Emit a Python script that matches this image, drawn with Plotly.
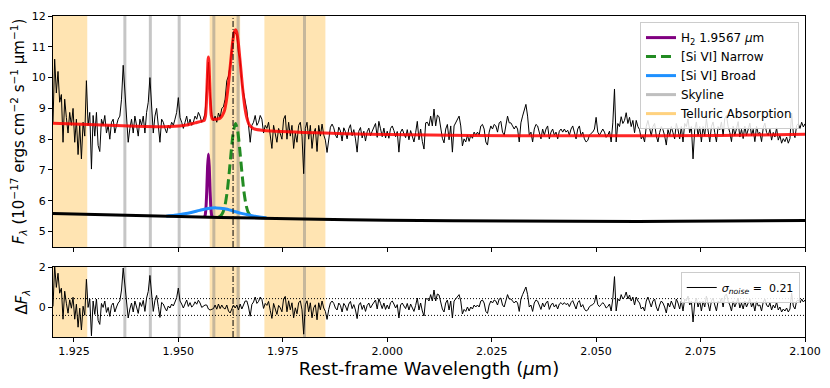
import plotly.graph_objects as go

# ---------------- data ----------------
WL_START = 1.92      # first wavelength sample (micron)
WL_STEP = 0.0004     # sampling of the spectrum (micron)

flux = [
    8.55, 10.60, 9.50, 10.20, 9.20, 9.45, 7.90, 9.30, 8.70, 8.20,
    8.87, 8.45, 9.00, 7.90, 8.65, 7.50, 8.45, 7.36, 8.55, 8.10,
    9.90, 8.45, 8.87, 7.03, 8.77, 8.10, 8.87, 7.80, 7.60, 8.65,
    8.45, 8.77, 8.20, 8.45, 8.00, 8.55, 8.65, 8.20, 8.45, 8.65,
    8.75, 9.30, 10.40, 9.50, 8.75, 7.90, 8.35, 8.65, 8.20, 8.75,
    8.45, 8.10, 8.65, 8.45, 8.75, 8.20, 8.87, 9.20, 10.00, 9.20,
    8.20, 8.75, 9.00, 8.45, 7.90, 8.65, 8.55, 8.35, 8.20, 8.45,
    8.35, 8.55, 8.45, 8.65, 8.87, 9.35, 8.70, 8.55, 8.35, 8.55,
    8.75, 8.45, 8.65, 8.45, 8.55, 8.75, 8.65, 8.87, 8.75, 8.55,
    8.65, 8.85, 9.70, 10.50, 9.55, 8.80, 8.60, 8.75, 8.55, 8.85,
    8.70, 9.00, 9.05, 9.30, 9.90, 10.05, 10.40, 11.00, 11.50, 11.45,
    11.40, 10.80, 10.60, 9.80, 9.55, 9.25, 8.95, 8.45, 7.90, 8.45,
    8.55, 8.77, 8.45, 8.55, 8.77, 8.65, 8.20, 8.45, 8.35, 8.55,
    8.10, 7.70, 8.45, 8.10, 7.90, 8.35, 8.20, 8.00, 8.65, 8.77,
    8.00, 8.55, 8.10, 8.45, 7.70, 8.20, 7.90, 8.45, 8.55, 8.10,
    6.88, 8.35, 8.55, 8.00, 8.45, 7.70, 8.20, 8.35, 7.60, 8.45,
    8.10, 8.49, 8.14, 7.97, 7.57, 8.07, 8.39, 8.49, 8.37, 8.14,
    8.04, 8.39, 8.27, 7.94, 8.37, 8.24, 8.01, 8.34, 8.47, 8.11,
    8.31, 8.01, 7.58, 8.26, 8.38, 8.04, 8.26, 7.94, 8.24, 8.36,
    8.11, 8.26, 8.41, 8.51, 8.06, 8.58, 8.34, 8.08, 8.36, 8.04,
    8.26, 8.03, 8.35, 8.43, 8.28, 8.08, 8.25, 7.58, 8.23, 8.33,
    8.18, 8.05, 8.31, 7.98, 8.28, 8.08, 7.91, 8.21, 8.58, 7.98,
    8.33, 7.93, 7.68, 8.53, 8.55, 8.43, 8.75, 8.43, 8.98, 8.43,
    8.78, 8.73, 8.33, 8.03, 7.88, 8.33, 8.48, 7.98, 8.43, 7.58,
    8.43, 8.53, 8.65, 8.75, 8.43, 7.78, 8.01, 7.91, 8.13, 7.93,
    8.13, 8.03, 8.23, 8.13, 8.23, 8.13, 8.43, 8.48, 8.33, 7.91,
    7.81, 8.23, 8.43, 8.33, 8.48, 8.43, 8.23, 8.53, 8.58, 8.23,
    8.13, 8.53, 8.75, 8.53, 8.53, 8.43, 8.33, 8.43, 8.33, 7.91,
    8.53, 8.75, 8.98, 9.13, 8.75, 8.13, 8.23, 7.91, 8.33, 8.48,
    8.43, 8.23, 8.01, 8.33, 8.13, 8.33, 8.43, 8.01, 8.23, 8.33,
    8.13, 8.23, 8.01, 8.26, 8.33, 8.23, 8.33, 8.23, 8.29, 8.13,
    8.33, 8.43, 8.23, 8.01, 8.33, 8.43, 8.11, 8.23, 8.01, 7.91,
    7.96, 8.13, 8.19, 8.23, 8.33, 8.71, 8.23, 8.13, 8.23, 8.33,
    8.23, 8.06, 8.13, 8.26, 7.91, 8.53, 9.63, 7.91, 8.51, 8.41,
    8.73, 8.51, 8.61, 8.86, 8.51, 8.71, 8.41, 8.61, 8.21, 8.61,
    8.41, 8.31, 8.01, 8.11, 7.91, 8.41, 8.61, 8.31, 8.11, 8.41,
    8.51, 8.11, 7.91, 8.21, 8.41, 8.31, 8.11, 7.81, 8.31, 8.11,
    8.41, 8.21, 8.01, 8.51, 8.31, 8.01, 8.41, 7.91, 8.51, 8.41,
    8.66, 8.21, 8.41, 7.36, 8.31, 8.56, 8.11, 8.41, 7.91, 8.41,
    8.11, 8.66, 8.31, 7.91, 8.41, 8.56, 8.21, 7.91, 8.41, 8.31,
    8.56, 8.12, 8.67, 8.77, 8.42, 8.22, 7.92, 8.42, 8.12, 8.32,
    8.57, 8.07, 8.32, 8.02, 8.42, 8.12, 8.32, 8.52, 8.12, 8.32,
    7.92, 8.42, 8.17, 8.22, 7.92, 8.37, 8.52, 8.22, 8.12, 8.32,
    7.97, 8.22, 8.07, 8.37, 7.97, 8.12, 7.87, 8.02, 7.92, 8.07,
    7.87, 8.02, 8.85, 8.20, 8.05, 8.45, 8.50, 8.35, 8.55, 8.40,
    8.50,
]

resid = [
    0.03, 2.08, 0.98, 1.69, 0.69, 0.94, -0.61, 0.79, 0.19, -0.31,
    0.36, -0.06, 0.49, -0.61, 0.14, -1.01, -0.06, -1.15, 0.04, -0.41,
    1.39, -0.02, 0.40, -1.44, 0.30, -0.37, 0.40, -0.67, -0.87, 0.18,
    -0.02, 0.30, -0.27, -0.02, -0.47, 0.08, 0.20, -0.25, 0.00, 0.20,
    0.30, 0.85, 1.95, 1.05, 0.30, -0.55, -0.10, 0.20, -0.25, 0.30,
    0.00, -0.32, 0.23, 0.03, 0.33, -0.22, 0.45, 0.78, 1.58, 0.78,
    -0.22, 0.33, 0.58, 0.03, -0.52, 0.23, 0.15, -0.05, -0.20, 0.05,
    -0.05, 0.15, 0.05, 0.25, 0.47, 0.95, 0.30, 0.15, -0.05, 0.15,
    0.35, 0.03, 0.22, 0.00, 0.08, 0.26, 0.14, 0.34, 0.20, -0.02,
    0.05, 0.10, 0.10, -0.10, -0.15, -0.10, -0.08, 0.10, -0.11, 0.15,
    -0.08, 0.10, -0.05, -0.10, 0.10, -0.20, -0.30, -0.10, 0.10, -0.05,
    0.10, -0.15, 0.15, -0.10, 0.15, 0.30, 0.30, 0.00, -0.46, 0.13,
    0.25, 0.50, 0.18, 0.28, 0.50, 0.38, -0.07, 0.18, 0.08, 0.28,
    -0.17, -0.57, 0.18, -0.17, -0.37, 0.08, -0.04, -0.24, 0.41, 0.53,
    -0.24, 0.31, -0.14, 0.21, -0.54, -0.04, -0.34, 0.21, 0.31, -0.14,
    -1.36, 0.11, 0.31, -0.24, 0.21, -0.54, -0.04, 0.11, -0.64, 0.21,
    -0.14, 0.30, -0.05, -0.22, -0.62, -0.12, 0.20, 0.30, 0.18, -0.05,
    -0.15, 0.20, 0.08, -0.25, 0.18, 0.05, -0.18, 0.15, 0.28, -0.08,
    0.12, -0.15, -0.58, 0.10, 0.22, -0.12, 0.10, -0.22, 0.08, 0.20,
    -0.05, 0.10, 0.25, 0.35, -0.10, 0.42, 0.18, -0.08, 0.20, -0.12,
    0.10, -0.10, 0.22, 0.30, 0.15, -0.05, 0.12, -0.55, 0.10, 0.20,
    0.05, -0.08, 0.18, -0.15, 0.15, -0.05, -0.22, 0.08, 0.45, -0.15,
    0.20, -0.20, -0.45, 0.40, 0.42, 0.30, 0.62, 0.30, 0.85, 0.30,
    0.65, 0.60, 0.20, -0.10, -0.25, 0.20, 0.35, -0.15, 0.30, -0.55,
    0.30, 0.40, 0.52, 0.62, 0.30, -0.35, -0.12, -0.22, 0.00, -0.20,
    0.00, -0.10, 0.10, 0.00, 0.10, 0.00, 0.30, 0.35, 0.20, -0.22,
    -0.32, 0.10, 0.30, 0.20, 0.35, 0.30, 0.10, 0.40, 0.45, 0.10,
    0.00, 0.40, 0.62, 0.40, 0.40, 0.30, 0.20, 0.30, 0.20, -0.22,
    0.40, 0.62, 0.85, 1.00, 0.62, 0.00, 0.10, -0.22, 0.20, 0.35,
    0.30, 0.10, -0.12, 0.20, 0.00, 0.20, 0.30, -0.12, 0.10, 0.20,
    0.00, 0.12, -0.10, 0.15, 0.22, 0.12, 0.22, 0.12, 0.18, 0.02,
    0.22, 0.32, 0.12, -0.10, 0.22, 0.32, 0.00, 0.12, -0.10, -0.20,
    -0.15, 0.02, 0.08, 0.12, 0.22, 0.60, 0.12, 0.02, 0.12, 0.22,
    0.12, -0.05, 0.02, 0.15, -0.20, 0.42, 1.52, -0.20, 0.40, 0.30,
    0.62, 0.40, 0.50, 0.75, 0.40, 0.60, 0.30, 0.50, 0.10, 0.50,
    0.30, 0.20, -0.10, 0.00, -0.20, 0.30, 0.50, 0.20, 0.00, 0.30,
    0.40, 0.00, -0.20, 0.10, 0.30, 0.20, 0.00, -0.30, 0.20, 0.00,
    0.30, 0.10, -0.10, 0.40, 0.20, -0.10, 0.30, -0.20, 0.40, 0.30,
    0.55, 0.10, 0.30, -0.75, 0.20, 0.45, 0.00, 0.30, -0.20, 0.30,
    0.00, 0.55, 0.20, -0.20, 0.30, 0.45, 0.10, -0.20, 0.30, 0.20,
    0.45, 0.00, 0.55, 0.65, 0.30, 0.10, -0.20, 0.30, 0.00, 0.20,
    0.45, -0.05, 0.20, -0.10, 0.30, 0.00, 0.20, 0.40, 0.00, 0.20,
    -0.20, 0.30, 0.05, 0.10, -0.20, 0.25, 0.40, 0.10, 0.00, 0.20,
    -0.15, 0.10, -0.05, 0.25, -0.15, 0.00, -0.25, -0.10, -0.20, -0.05,
    -0.25, -0.10, 0.70, 0.05, -0.10, 0.30, 0.35, 0.20, 0.40, 0.25,
    0.35,
]

# total model fit (red)
fit_wl = [1.9200, 1.9300, 1.9400, 1.9480, 1.9520, 1.9540, 1.9555, 1.9562,
          1.9565, 1.9567, 1.9569, 1.9571, 1.9572, 1.9573, 1.9575, 1.9577,
          1.9579, 1.9582, 1.9590, 1.9600, 1.9610, 1.9615, 1.9620, 1.9625,
          1.9630, 1.9634, 1.9637, 1.9640, 1.9644, 1.9649, 1.9654, 1.9659,
          1.9664, 1.9670, 1.9680, 1.9700, 1.9800, 1.9900, 2.0000, 2.0200,
          2.0500, 2.0800, 2.1000]
fit_flux = [8.52, 8.47, 8.42, 8.41, 8.46, 8.53, 8.58, 8.61,
            8.75, 9.13, 9.86, 10.56, 10.67, 10.56, 9.86, 9.13,
            8.77, 8.65, 8.65, 8.68, 8.91, 9.25, 9.79, 10.48,
            11.15, 11.48, 11.55, 11.46, 11.08, 10.37, 9.64, 9.05,
            8.69, 8.46, 8.34, 8.29, 8.22, 8.18, 8.15, 8.12,
            8.11, 8.12, 8.16]

# continuum (black, offset)
cont_wl = [1.920, 1.940, 1.960, 1.980, 2.000, 2.030, 2.060, 2.080, 2.100]
cont_flux = [5.59, 5.52, 5.46, 5.41, 5.37, 5.34, 5.33, 5.34, 5.36]

# H2 1.9567 component
h2_wl = [1.9562, 1.9564, 1.9566, 1.9568, 1.9570, 1.9572, 1.9574, 1.9576,
         1.9578, 1.9580, 1.9582]
h2_flux = [5.47, 5.52, 5.74, 6.31, 7.11, 7.52, 7.11, 6.31, 5.74, 5.52, 5.47]

# [Si VI] narrow component
narrow_wl = [1.9597, 1.9602, 1.9607, 1.9612, 1.9617, 1.9622, 1.9627, 1.9632,
             1.9637, 1.9642, 1.9647, 1.9652, 1.9657, 1.9662, 1.9667, 1.9672,
             1.9677]
narrow_flux = [5.47, 5.52, 5.63, 5.87, 6.30, 6.94, 7.67, 8.27,
               8.51, 8.27, 7.67, 6.94, 6.30, 5.87, 5.63, 5.52, 5.47]

# [Si VI] broad component
broad_wl = [1.9471, 1.9491, 1.9511, 1.9531, 1.9551, 1.9571, 1.9591, 1.9611,
            1.9631, 1.9651, 1.9671, 1.9691, 1.9711]
broad_flux = [5.50, 5.53, 5.57, 5.62, 5.69, 5.75, 5.77, 5.74,
              5.67, 5.59, 5.53, 5.48, 5.45]

telluric_bands = [(1.9200, 1.9282), (1.9575, 1.9648), (1.9706, 1.9852)]
skylines = [1.9372, 1.9433, 1.9502, 1.9585, 1.9643, 1.9802]
si_vi_center = 1.9631
sigma_noise = 0.21

x_ticks = [1.925, 1.950, 1.975, 2.000, 2.025, 2.050, 2.075, 2.100]
x_tick_text = ["1.925", "1.950", "1.975", "2.000", "2.025", "2.050", "2.075", "2.100"]
y_ticks_top = [5, 6, 7, 8, 9, 10, 11, 12]
y_ticks_bot = [0, 2]

# ---------------- styling ----------------
FONT = "DejaVu Sans"
TELLURIC_FILL = "rgba(255,165,0,0.30)"
SKY_COLOR = "rgba(128,128,128,0.45)"

fig = go.Figure()

fig.add_trace(go.Scatter(y=flux, x0=WL_START, dx=WL_STEP, mode="lines",
                         line=dict(color="black", width=1), showlegend=False,
                         xaxis="x", yaxis="y", hoverinfo="skip"))
fig.add_trace(go.Scatter(x=fit_wl, y=fit_flux, mode="lines",
                         line=dict(color="rgba(255,0,0,0.85)", width=3, shape="spline", smoothing=0.6),
                         showlegend=False, xaxis="x", yaxis="y"))
fig.add_trace(go.Scatter(x=h2_wl, y=h2_flux, mode="lines", name="H<sub>2</sub> 1.9567 <i>μ</i>m",
                         line=dict(color="purple", width=3, shape="spline", smoothing=0.6),
                         xaxis="x", yaxis="y"))
fig.add_trace(go.Scatter(x=narrow_wl, y=narrow_flux, mode="lines", name="[Si VI] Narrow",
                         line=dict(color="forestgreen", width=3, dash="10px,5px", shape="spline", smoothing=0.6),
                         xaxis="x", yaxis="y"))
fig.add_trace(go.Scatter(x=broad_wl, y=broad_flux, mode="lines", name="[Si VI] Broad",
                         line=dict(color="dodgerblue", width=3, shape="spline", smoothing=0.8),
                         xaxis="x", yaxis="y"))
fig.add_trace(go.Scatter(x=cont_wl, y=cont_flux, mode="lines",
                         line=dict(color="black", width=3, shape="spline", smoothing=0.8),
                         showlegend=False, xaxis="x", yaxis="y"))
fig.add_trace(go.Scatter(x=[None], y=[None], mode="lines", name="Skyline",
                         line=dict(color="rgba(128,128,128,0.5)", width=3), xaxis="x", yaxis="y"))
fig.add_trace(go.Scatter(x=[None], y=[None], mode="lines", name="Telluric Absorption",
                         line=dict(color="rgba(255,165,0,0.5)", width=3), xaxis="x", yaxis="y"))

fig.add_trace(go.Scatter(y=resid, x0=WL_START, dx=WL_STEP, mode="lines",
                         name="<i>σ</i><sub><i>noise</i></sub> =  %.2f" % sigma_noise,
                         line=dict(color="black", width=1), xaxis="x2", yaxis="y2",
                         legend="legend2"))

shapes = []
for yref in ("y domain", "y2 domain"):
    for lo, hi in telluric_bands:
        shapes.append(dict(type="rect", xref="x", yref=yref, x0=lo, x1=hi, y0=0, y1=1,
                           fillcolor=TELLURIC_FILL, line=dict(width=0), layer="below"))
    for s in skylines:
        shapes.append(dict(type="line", xref="x", yref=yref, x0=s, x1=s, y0=0, y1=1,
                           line=dict(color=SKY_COLOR, width=3), layer="below"))
    shapes.append(dict(type="line", xref="x", yref=yref, x0=si_vi_center, x1=si_vi_center,
                       y0=0, y1=1, line=dict(color="black", width=1, dash="6px,2px,1px,2px"),
                       layer="above"))
for lvl in (2 * sigma_noise, -2 * sigma_noise):
    shapes.append(dict(type="line", xref="x2 domain", yref="y2", x0=0, x1=1, y0=lvl, y1=lvl,
                       line=dict(color="black", width=1, dash="1px,2px"), layer="above"))

axis_common = dict(showline=True, linecolor="black", linewidth=1, mirror=True,
                   ticks="outside", ticklen=4, tickwidth=1, tickcolor="black",
                   showgrid=False, zeroline=False, automargin=False,
                   tickfont=dict(family=FONT, size=11, color="black"))

# the page body adds an 8 px offset, so margins are set to land the plot area
# at x 53..805 and y 16..337 of the 830x388 window
fig.update_layout(
    width=830, height=388,
    margin=dict(l=45, r=33, t=8, b=59, autoexpand=False),
    paper_bgcolor="white", plot_bgcolor="white",
    font=dict(family=FONT, size=11, color="black"),
    shapes=shapes,
    xaxis=dict(domain=[0, 1], anchor="y", range=[1.92, 2.10], tickvals=x_ticks,
               showticklabels=False, matches="x2", **axis_common),
    yaxis=dict(domain=[0.2804, 1], anchor="x", range=[4.5, 12], tickvals=y_ticks_top,
               title=dict(text="<i>F</i><sub><i>λ</i></sub> (10<sup>−17</sup> ergs cm<sup>−2</sup> s<sup>−1</sup> μm<sup>−1</sup>)",
                          font=dict(family=FONT, size=15), standoff=7),
               **axis_common),
    xaxis2=dict(domain=[0, 1], anchor="y2", range=[1.92, 2.10], tickvals=x_ticks,
                ticktext=x_tick_text,
                title=dict(text="Rest-frame Wavelength (<i>μ</i>m)",
                           font=dict(family=FONT, size=18), standoff=3),
                **axis_common),
    yaxis2=dict(domain=[0, 0.218], anchor="x2", range=[-1.5, 2], tickvals=y_ticks_bot,
                title=dict(text="Δ<i>F</i><sub><i>λ</i></sub>", font=dict(family=FONT, size=15),
                           standoff=7),
                **axis_common),
    legend=dict(x=0.992, xanchor="right", y=0.981, yanchor="top",
                font=dict(family=FONT, size=12), bgcolor="rgba(255,255,255,0.85)",
                bordercolor="#cccccc", borderwidth=1, tracegroupgap=0, itemwidth=30),
    legend2=dict(x=0.993, xanchor="right", y=0.2025, yanchor="top",
                 font=dict(family=FONT, size=11), bgcolor="rgba(255,255,255,0.85)",
                 bordercolor="#cccccc", borderwidth=1, itemwidth=30),
    showlegend=True,
)

fig.write_html("out.html")
